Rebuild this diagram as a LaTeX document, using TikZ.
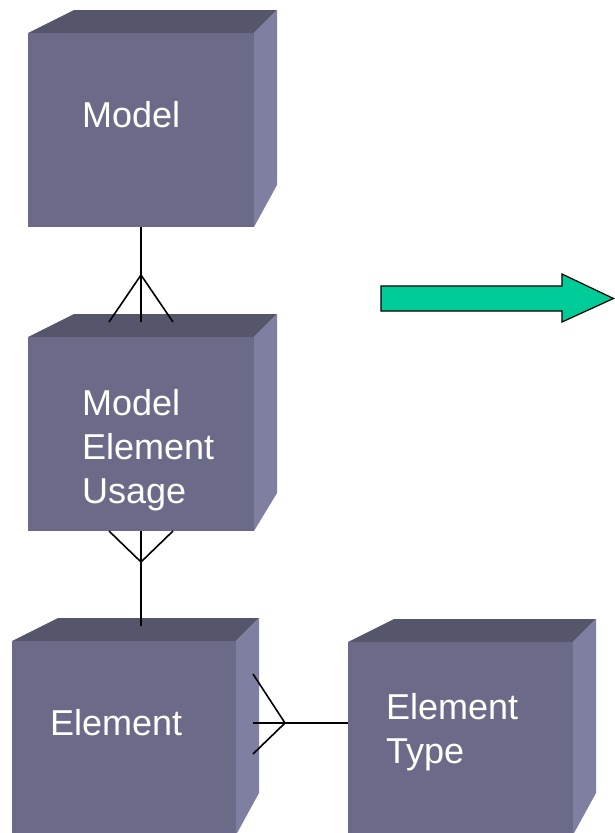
\documentclass[tikz,border=0pt]{standalone}
\usepackage{fontspec}
\setmainfont{Liberation Sans}
\usetikzlibrary{calc}
\definecolor{frontc}{RGB}{107,107,137}
\definecolor{topc}{RGB}{85,85,107}
\definecolor{sidec}{RGB}{127,127,161}
\definecolor{arrowc}{RGB}{0,204,153}
\tikzset{
  front/.style={fill=frontc, draw=none, inner sep=0pt, outer sep=0pt, rectangle},
  lbl/.style={text=white, font=\fontsize{36}{44}\selectfont, inner sep=0pt, anchor=base west, align=left},
  conn/.style={draw=black, line width=1.6pt},
}
% name, left, top, right, bottom, side-bottom-start
\newcommand\mycube[6]{%
  \fill[topc] (#2,#3) -- ++(46,-23) -- ({#4+23},{#3-23}) -- (#4,#3) -- cycle;
  \fill[sidec] (#4,#3) -- ({#4+23},{#3-23}) -- ({#4+23},#6) -- (#4,#5) -- cycle;
  \node[front, minimum width={(#4-#2)*1pt}, minimum height={(#5-#3)*1pt}] (#1) at ({(#2+#4)/2},{(#3+#5)/2}) {};
}
\begin{document}
\begin{tikzpicture}[x=1pt,y=-1pt]
\useasboundingbox (0,0) rectangle (615,833);
\mycube{model}{28}{33}{254}{227}{185}
\mycube{meu}{28}{337}{254}{531}{493}
\mycube{elem}{12}{641}{236}{835}{793}
\mycube{etype}{348}{642}{573}{835}{793}

\node[lbl] (tmodel) at (82,127) {Model};
\node[lbl] (tmeu) at (82,503) {Model\\Element\\Usage};
\node[lbl] (telem) at (50,735) {Element};
\node[lbl] (tetype) at (386,763) {Element\\Type};

% Model -- MEU (many at MEU)
\coordinate (c1) at (141,322);
\coordinate (a1) at (141,275);
\draw[conn] (model.south) -- (c1);
\draw[conn] ($(c1)+(-32,0)$) -- (a1) -- ($(c1)+(32,0)$);

% MEU -- Element (many at MEU)
\coordinate (c2) at (141,626);
\coordinate (a2) at (141,562);
\draw[conn] (meu.south) -- (c2);
\draw[conn] ($(meu.south)+(-32,0)$) -- (a2) -- ($(meu.south)+(32,0)$);

% Element -- Element Type (many at Element)
\coordinate (c3) at (253,723);
\coordinate (a3) at (285,723);
\draw[conn] (c3) -- (etype.west |- c3);
\draw[conn] ($(c3)+(0,-49)$) -- (a3) -- ($(c3)+(0,31)$);

% big arrow
\filldraw[fill=arrowc, draw=black, line width=1.2pt]
  (381,286) coordinate (arr) -- (562,286) -- (562,274) -- (613.5,298.5) -- (562,322) -- (562,311) -- (381,311) -- cycle;
\end{tikzpicture}
\end{document}
